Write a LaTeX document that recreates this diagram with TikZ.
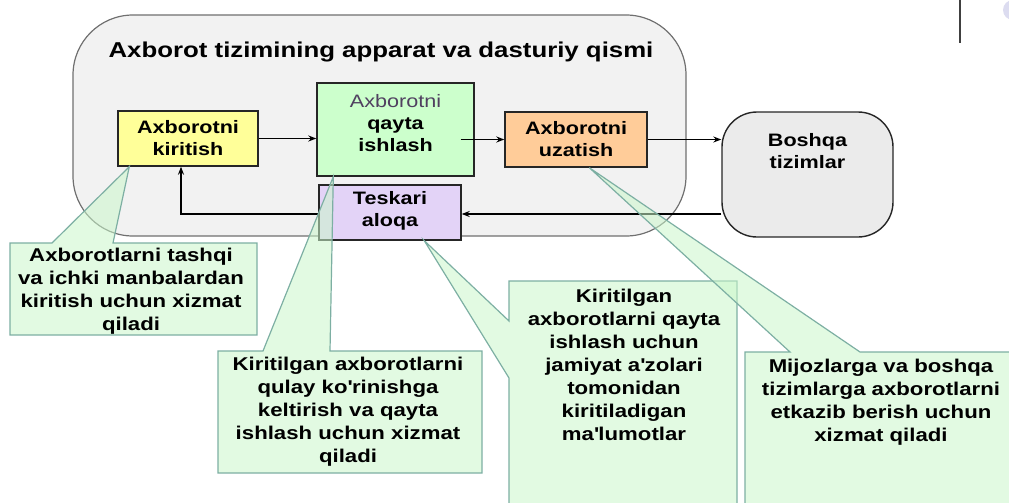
\documentclass[tikz,border=0pt]{standalone}
\usepackage{fontspec}
\setmainfont{Liberation Sans}[FakeStretch=1.2]
\usetikzlibrary{arrows.meta,calc}
\definecolor{bigfill}{HTML}{F2F2F2}
\definecolor{bigline}{HTML}{707070}
\definecolor{yel}{HTML}{FFFF99}
\definecolor{grnfill}{HTML}{CCFFCC}
\definecolor{orgfill}{HTML}{FFCC99}
\definecolor{purfill}{HTML}{E3D3F7}
\definecolor{gryfill}{HTML}{EBEBEB}
\definecolor{calfill}{HTML}{CAF6CA}
\definecolor{calline}{HTML}{7DAFA3}
\definecolor{softtext}{HTML}{504060}
\definecolor{lavgray}{HTML}{DCDCF0}
\begin{document}
\begin{tikzpicture}[x=1pt,y=-1pt,
  box/.style={draw=black!85,line width=1.4pt,inner sep=0pt},
  lbl/.style={align=center,inner sep=0pt,font=\fontsize{18}{22}\selectfont\bfseries},
  arr/.style={line width=1.3pt,-{Stealth[length=8pt,width=6pt]}},
  callout/.style={draw=calline,fill=calfill,fill opacity=0.55,line width=1.2pt},
  ctext/.style={align=center,inner sep=0pt,font=\fontsize{18.5}{23}\selectfont\bfseries}
]
\useasboundingbox (0,0) rectangle (1009,503);
\clip (0,0) rectangle (1009,503);

% top right decorations
\draw[line width=2pt,black!75] (960,0) -- (960,43);
\fill[lavgray] (1013,10) circle (10pt);

% system frame
\node[draw=bigline,fill=bigfill,line width=1.2pt,rounded corners=60pt,
      minimum width=613pt,minimum height=221pt] (sys) at (379.5,125.5) {};
\node[anchor=base,inner sep=0pt,font=\fontsize{21.5}{24}\selectfont\bfseries] (title) at (381,58)
  {Axborot tizimining apparat va dasturiy qismi};

% boxes
\node[box,fill=yel,minimum width=140pt,minimum height=55pt] (yelb) at (188,138.5) {};
\node[box,fill=grnfill,minimum width=157pt,minimum height=93pt] (grn) at (395.5,129.5) {};
\node[box,fill=orgfill,minimum width=142pt,minimum height=55pt] (org) at (576,139.5) {};
\node[box,fill=purfill,minimum width=142pt,minimum height=55pt] (pur) at (390,212.5) {};
\node[draw=black!85,line width=1.4pt,fill=gryfill,rounded corners=35pt,
      minimum width=171pt,minimum height=125pt] (bsh) at (807.5,174.5) {};

\node[lbl] (yelT) at (yelb.center) {Axborotni\\kiritish};
\node[lbl] (grnT) at ([yshift=6pt]grn.center) {{\mdseries\color{softtext}Axborotni}\\qayta\\ishlash};
\node[lbl] (orgT) at (org.center) {Axborotni\\uzatish};
\node[lbl] (purT) at ([yshift=2pt]pur.center) {Teskari\\aloqa};
\node[lbl] (bshT) at ([yshift=23pt]bsh.center) {Boshqa\\tizimlar};

% connectors
\draw[arr] (yelb.east) -- (grn.west |- yelb.east);
\draw[arr] ([xshift=-14pt]grn.east |- org.west) -- (org.west);
\draw[arr] (org.east) -- (bsh.west |- org.east);
\draw[arr] ([yshift=-1.5pt]bsh.west |- pur.east) -- ([yshift=-1.5pt]pur.east);
\draw[arr] ([yshift=-1.5pt]pur.west) -| ([xshift=-7pt]yelb.south);

% callouts
\draw[callout] (10,243) -- (52,243) -- ($(yelb.south west)+(12,0)$) -- (113,243)
  -- (257,243) -- (257,335) -- (10,335) -- cycle;
\draw[callout] (218,351) -- (263,351) -- ($(grn.south west)+(17,0)$) -- (330,351)
  -- (482,351) -- (482,473) -- (218,473) -- cycle;
\draw[callout] (509,281) -- (737,281) -- (737,510) -- (509,510) -- (509,378)
  -- ($(pur.south west)+(106,0)$) -- (509,321) -- cycle;
\draw[callout] (745,352) -- (790,352) -- ($(org.south west)+(85,0)$) -- (860,352)
  -- (1015,352) -- (1015,510) -- (745,510) -- cycle;

\node[ctext] (c1) at (131,291) {Axborotlarni tashqi\\va ichki manbalardan\\kiritish uchun xizmat\\qiladi};
\node[ctext] (c2) at (348,412) {Kiritilgan axborotlarni\\qulay ko\textquotesingle rinishga\\keltirish va qayta\\ishlash uchun xizmat\\qiladi};
\node[ctext,anchor=north] (c3) at (624,289) {Kiritilgan\\axborotlarni qayta\\ishlash uchun\\jamiyat a\textquotesingle zolari\\tomonidan\\kiritiladigan\\ma\textquotesingle lumotlar};
\node[ctext,anchor=north] (c4) at (881,358.5) {Mijozlarga va boshqa\\tizimlarga axborotlarni\\etkazib berish uchun\\xizmat qiladi};
\end{tikzpicture}
\end{document}
